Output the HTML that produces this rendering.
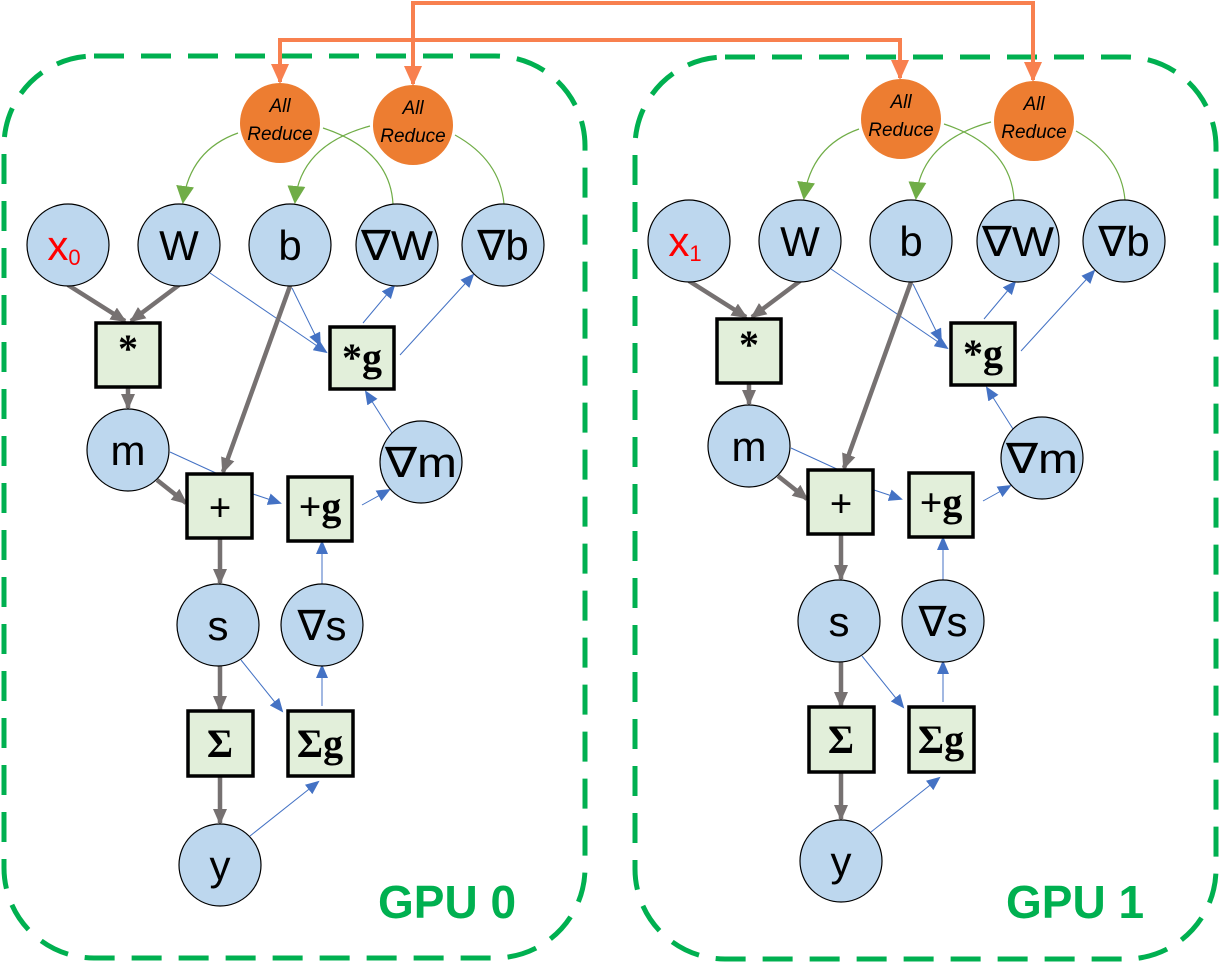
<!DOCTYPE html>
<html><head><meta charset="utf-8"><style>
html,body{margin:0;padding:0;background:#fff;}
svg{display:block;}
.c{fill:#bdd7ee;stroke:#000;stroke-width:1.2;}
.ar{fill:#ed7d31;}
.bx{fill:#e2efda;stroke:#000;stroke-width:3.5;}
.ct{font-family:"Liberation Sans","DejaVu Sans",sans-serif;font-size:42px;text-anchor:middle;fill:#000;}
.bt{font-family:"Liberation Serif",serif;font-weight:bold;font-size:40px;text-anchor:middle;fill:#000;}
.at{font-family:"Liberation Sans",sans-serif;font-style:italic;font-size:19px;text-anchor:middle;fill:#000;}
.g{stroke:#767171;stroke-width:4.5;fill:none;}
.b{stroke:#4472c4;stroke-width:1;fill:none;}
.gr{stroke:#70ad47;stroke-width:1.2;fill:none;}
.gpu{font-family:"Liberation Sans",sans-serif;font-weight:bold;font-size:46px;fill:#00b050;}
</style></head><body>
<svg width="1220" height="963" viewBox="0 0 1220 963" xmlns="http://www.w3.org/2000/svg">
<defs>
<marker id="mg" markerWidth="16" markerHeight="14" refX="14" refY="7" orient="auto" markerUnits="userSpaceOnUse"><path d="M0,0 L16,7 L0,14 z" fill="#767171"/></marker>
<marker id="mb" markerWidth="14" markerHeight="12" refX="12" refY="6" orient="auto" markerUnits="userSpaceOnUse"><path d="M0,0 L14,6 L0,12 z" fill="#4472c4"/></marker>
<marker id="mgr" markerWidth="18" markerHeight="18" refX="16" refY="9" orient="auto" markerUnits="userSpaceOnUse"><path d="M0,0 L18,9 L0,18 z" fill="#70ad47"/></marker>
<marker id="mo" markerWidth="20" markerHeight="18" refX="18" refY="9" orient="auto-start-reverse" markerUnits="userSpaceOnUse"><path d="M0,0 L20,9 L0,18 z" fill="#f8804f"/></marker>
</defs>

<rect x="4" y="56" width="581" height="902" rx="90" fill="none" stroke="#00b050" stroke-width="5" stroke-dasharray="30,17"/>
<rect x="635" y="57" width="581" height="902" rx="90" fill="none" stroke="#00b050" stroke-width="5" stroke-dasharray="30,17"/>
<text class="gpu" x="378" y="918">GPU 0</text>
<text class="gpu" x="1006" y="918">GPU 1</text>

<path d="M280,82 L280,40 L900,40 L900,78" stroke="#f8804f" stroke-width="4" fill="none" marker-start="url(#mo)" marker-end="url(#mo)"/>
<path d="M413,84 L413,3 L1033,3 L1033,80" stroke="#f8804f" stroke-width="4" fill="none" marker-start="url(#mo)" marker-end="url(#mo)"/>

<g id="gpu0">
<path class="b" d="M210,273 L326,352" marker-end="url(#mb)"/>
<path class="b" d="M292,288 L320,345" marker-end="url(#mb)"/>
<path class="b" d="M363,323 L394,286" marker-end="url(#mb)"/>
<path class="b" d="M400,355 L473,275" marker-end="url(#mb)"/>
<path class="b" d="M392,433 L366,392" marker-end="url(#mb)"/>
<path class="b" d="M170,452 L218,474"/>
<path class="b" d="M253,494 L280,503" marker-end="url(#mb)"/>
<path class="b" d="M362,505 L389,490" marker-end="url(#mb)"/>
<path class="b" d="M322,584 L322,542" marker-end="url(#mb)"/>
<path class="b" d="M322,706 L322,666" marker-end="url(#mb)"/>
<path class="b" d="M241,660 L282,711" marker-end="url(#mb)"/>
<path class="b" d="M250,836 L318,782" marker-end="url(#mb)"/>
<path class="gr" d="M238,133 Q190,150 183,202" marker-end="url(#mgr)"/>
<path class="gr" d="M323,128 Q390,150 393,204"/>
<path class="gr" d="M370,126 Q300,145 295,202" marker-end="url(#mgr)"/>
<path class="gr" d="M455,135 Q500,160 504,204"/>
<path class="g" d="M68,285 L125,321" marker-end="url(#mg)"/>
<path class="g" d="M179,285 L131,321" marker-end="url(#mg)"/>
<path class="g" d="M128,388 L128,408" marker-end="url(#mg)"/>
<path class="g" d="M290,286 L223,472" marker-end="url(#mg)"/>
<path class="g" d="M157,480 L186,503" marker-end="url(#mg)"/>
<path class="g" d="M220,538 L220,583" marker-end="url(#mg)"/>
<path class="g" d="M220,666 L220,710" marker-end="url(#mg)"/>
<path class="g" d="M220,776 L220,823" marker-end="url(#mg)"/>
<circle class="ar" cx="280" cy="123" r="40"/>
<text class="at" x="280" y="112">All</text><text class="at" x="280" y="140">Reduce</text>
<circle class="ar" cx="413" cy="125" r="40"/>
<text class="at" x="413" y="114">All</text><text class="at" x="413" y="142">Reduce</text>
<circle class="c" cx="68" cy="245" r="41"/><text class="ct" x="64" y="260" style="fill:red">x<tspan font-size="22" dy="5">0</tspan></text>
<circle class="c" cx="179" cy="245" r="41"/><text class="ct" x="179" y="260">W</text>
<circle class="c" cx="290" cy="245" r="41"/><text class="ct" x="290" y="260">b</text>
<circle class="c" cx="397" cy="245" r="41"/><text class="ct" x="397" y="260" textLength="72" lengthAdjust="spacingAndGlyphs">∇W</text>
<circle class="c" cx="503" cy="245" r="41"/><text class="ct" x="503" y="260">∇b</text>
<circle class="c" cx="128" cy="450" r="41"/><text class="ct" x="128" y="465">m</text>
<circle class="c" cx="421" cy="462" r="41"/><text class="ct" x="421" y="477" textLength="72" lengthAdjust="spacingAndGlyphs">∇m</text>
<circle class="c" cx="218" cy="625" r="41"/><text class="ct" x="218" y="640">s</text>
<circle class="c" cx="322" cy="625" r="41"/><text class="ct" x="322" y="640">∇s</text>
<circle class="c" cx="220" cy="865" r="41"/><text class="ct" x="220" y="880">y</text>
<rect class="bx" x="96" y="323" width="64" height="64"/><text class="bt" x="128" y="362">*</text>
<rect class="bx" x="330" y="327" width="64" height="62"/><text class="bt" x="362" y="371">*g</text>
<rect class="bx" x="187" y="474" width="65" height="64"/><text class="bt" x="220" y="521">+</text>
<rect class="bx" x="288" y="477" width="64" height="64"/><text class="bt" x="320" y="520">+g</text>
<rect class="bx" x="188" y="711" width="65" height="65"/><text class="bt" x="220" y="757">Σ</text>
<rect class="bx" x="288" y="711" width="65" height="65"/><text class="bt" x="320" y="757">Σg</text>
</g>

<g transform="translate(621,-4)">
<path class="b" d="M210,273 L326,352" marker-end="url(#mb)"/>
<path class="b" d="M292,288 L320,345" marker-end="url(#mb)"/>
<path class="b" d="M363,323 L394,286" marker-end="url(#mb)"/>
<path class="b" d="M400,355 L473,275" marker-end="url(#mb)"/>
<path class="b" d="M392,433 L366,392" marker-end="url(#mb)"/>
<path class="b" d="M170,452 L218,474"/>
<path class="b" d="M253,494 L280,503" marker-end="url(#mb)"/>
<path class="b" d="M362,505 L389,490" marker-end="url(#mb)"/>
<path class="b" d="M322,584 L322,542" marker-end="url(#mb)"/>
<path class="b" d="M322,706 L322,666" marker-end="url(#mb)"/>
<path class="b" d="M241,660 L282,711" marker-end="url(#mb)"/>
<path class="b" d="M250,836 L318,782" marker-end="url(#mb)"/>
<path class="gr" d="M238,133 Q190,150 183,202" marker-end="url(#mgr)"/>
<path class="gr" d="M323,128 Q390,150 393,204"/>
<path class="gr" d="M370,126 Q300,145 295,202" marker-end="url(#mgr)"/>
<path class="gr" d="M455,135 Q500,160 504,204"/>
<path class="g" d="M68,285 L125,321" marker-end="url(#mg)"/>
<path class="g" d="M179,285 L131,321" marker-end="url(#mg)"/>
<path class="g" d="M128,388 L128,408" marker-end="url(#mg)"/>
<path class="g" d="M290,286 L223,472" marker-end="url(#mg)"/>
<path class="g" d="M157,480 L186,503" marker-end="url(#mg)"/>
<path class="g" d="M220,538 L220,583" marker-end="url(#mg)"/>
<path class="g" d="M220,666 L220,710" marker-end="url(#mg)"/>
<path class="g" d="M220,776 L220,823" marker-end="url(#mg)"/>
<circle class="ar" cx="280" cy="123" r="40"/>
<text class="at" x="280" y="112">All</text><text class="at" x="280" y="140">Reduce</text>
<circle class="ar" cx="413" cy="125" r="40"/>
<text class="at" x="413" y="114">All</text><text class="at" x="413" y="142">Reduce</text>
<circle class="c" cx="68" cy="245" r="41"/><text class="ct" x="64" y="260" style="fill:red">x<tspan font-size="22" dy="5">1</tspan></text>
<circle class="c" cx="179" cy="245" r="41"/><text class="ct" x="179" y="260">W</text>
<circle class="c" cx="290" cy="245" r="41"/><text class="ct" x="290" y="260">b</text>
<circle class="c" cx="397" cy="245" r="41"/><text class="ct" x="397" y="260" textLength="72" lengthAdjust="spacingAndGlyphs">∇W</text>
<circle class="c" cx="503" cy="245" r="41"/><text class="ct" x="503" y="260">∇b</text>
<circle class="c" cx="128" cy="450" r="41"/><text class="ct" x="128" y="465">m</text>
<circle class="c" cx="421" cy="462" r="41"/><text class="ct" x="421" y="477" textLength="72" lengthAdjust="spacingAndGlyphs">∇m</text>
<circle class="c" cx="218" cy="625" r="41"/><text class="ct" x="218" y="640">s</text>
<circle class="c" cx="322" cy="625" r="41"/><text class="ct" x="322" y="640">∇s</text>
<circle class="c" cx="220" cy="865" r="41"/><text class="ct" x="220" y="880">y</text>
<rect class="bx" x="96" y="323" width="64" height="64"/><text class="bt" x="128" y="362">*</text>
<rect class="bx" x="330" y="327" width="64" height="62"/><text class="bt" x="362" y="371">*g</text>
<rect class="bx" x="187" y="474" width="65" height="64"/><text class="bt" x="220" y="521">+</text>
<rect class="bx" x="288" y="477" width="64" height="64"/><text class="bt" x="320" y="520">+g</text>
<rect class="bx" x="188" y="711" width="65" height="65"/><text class="bt" x="220" y="757">Σ</text>
<rect class="bx" x="288" y="711" width="65" height="65"/><text class="bt" x="320" y="757">Σg</text>
</g>
</svg>
</body></html>
